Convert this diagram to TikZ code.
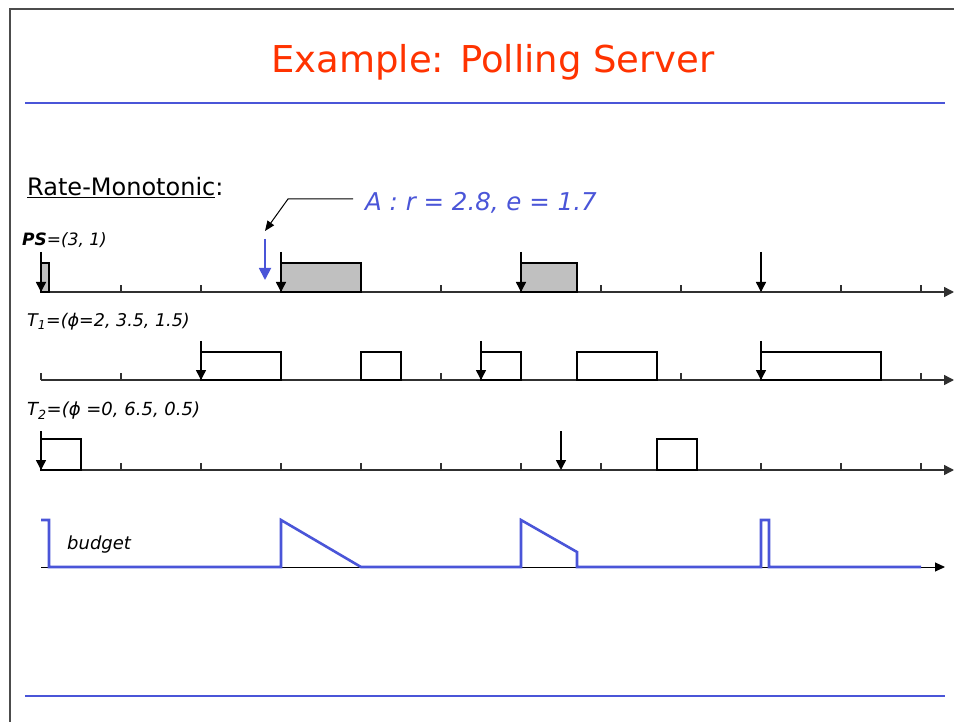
\documentclass[tikz,border=0pt]{standalone}
\usepackage{fontspec}
\setmainfont{DejaVu Sans}
\usetikzlibrary{arrows.meta}
\definecolor{titlered}{HTML}{FF3300}
\definecolor{slideblue}{HTML}{4A55D8}
\definecolor{boxgray}{HTML}{C0C0C0}
\definecolor{axisgray}{HTML}{303030}
\tikzset{
  axisline/.style={draw=axisgray,line width=1.5pt,-{Triangle[length=10pt,width=10pt]}},
  tickline/.style={draw=axisgray,line width=1.5pt},
  release/.style={draw=black,line width=1.5pt,-{Triangle[length=10pt,width=10pt]}},
  jobbox/.style={draw=black,line width=1.3pt,fill=white},
  psbox/.style={draw=black,line width=1.3pt,fill=boxgray},
  rule/.style={draw=slideblue,line width=2pt},
  lbl/.style={inner sep=0pt,anchor=west,font=\fontsize{17.5}{20}\selectfont\itshape},
}
\begin{document}
\begin{tikzpicture}[x=1pt,y=-1pt]
\useasboundingbox (0,0) rectangle (954,722);
\fill[white] (0,0) rectangle (954,722);
% frame
\draw[line width=1.3pt,black!70] (10,722) -- (10,9) -- (954,9);
% title
\node[text=titlered,font=\fontsize{37}{44}\selectfont] (title) at (493,62) {Example: Polling Server};
\draw[rule] (25,103) -- (945,103);
\draw[rule] (25,696) -- (945,696);
% Rate-Monotonic
\node[inner sep=0pt,anchor=west,font=\fontsize{24}{28}\selectfont] (rm) at (27,188) {\underline{Rate-Monotonic}:};
% ticks
\foreach \yy in {292,380,470} {
  \foreach \k in {0,...,11} { \draw[tickline] ({41+80*\k},\yy) -- ({41+80*\k},\yy-7); }
  \draw[axisline] (41,\yy) -- (954,\yy);
}
% PS row
\node[inner sep=0pt,anchor=west,font=\fontsize{17}{20}\selectfont\itshape] (pslbl) at (22,240) {\textbf{PS}=(3, 1)};
\foreach \a/\b in {41/49,281/361,521/577} { \draw[psbox] (\a,292) rectangle (\b,263); }
\foreach \x in {41,281,521,761} { \draw[release] (\x,252) -- (\x,292); }
% aperiodic A
\coordinate (arel) at (265,280);
\coordinate (atop) at (265,239);
\draw[draw=slideblue,line width=1.8pt,-{Triangle[length=12pt,width=12pt]}] (atop) -- (arel);
\node[inner sep=0pt,anchor=west,text=slideblue,font=\fontsize{24.5}{28}\selectfont\itshape] (alabel) at (365,203) {A : r = 2.8, e = 1.7};
\coordinate (c1) at (353,199);
\coordinate (c2) at (288,199);
\coordinate (c3) at (265,231);
\draw[line width=1pt,-{Triangle[length=10pt,width=8pt]}] (c1) -- (c2) -- (c3);
% T1 row
\node[lbl] (t1lbl) at (27,322) {T\textsubscript{1}=(ϕ=2, 3.5, 1.5)};
\foreach \a/\b in {201/281,361/401,481/521,577/657,761/881} { \draw[jobbox] (\a,380) rectangle (\b,352); }
\foreach \x in {201,481,761} { \draw[release] (\x,341) -- (\x,380); }
% T2 row
\node[lbl,font=\fontsize{18}{21}\selectfont\itshape] (t2lbl) at (27,411) {T\textsubscript{2}=(ϕ =0, 6.5, 0.5)};
\foreach \a/\b in {41/81,657/697} { \draw[jobbox] (\a,470) rectangle (\b,439); }
\foreach \x in {41,561} { \draw[release] (\x,431) -- (\x,470); }
% budget
\draw[draw=black,line width=1pt,-{Triangle[length=10pt,width=9pt]}] (41,567) -- (945,567);
\node[lbl,font=\fontsize{18}{21}\selectfont\itshape] (budget) at (67,545) {budget};
\draw[draw=slideblue,line width=2.6pt,line join=miter] (41,520) -- (49,520) -- (49,567) -- (281,567) -- (281,520) -- (361,567) -- (521,567) -- (521,520) -- (577,552) -- (577,567) -- (761,567) -- (761,520) -- (769,520) -- (769,567) -- (921,567);
\end{tikzpicture}
\end{document}
